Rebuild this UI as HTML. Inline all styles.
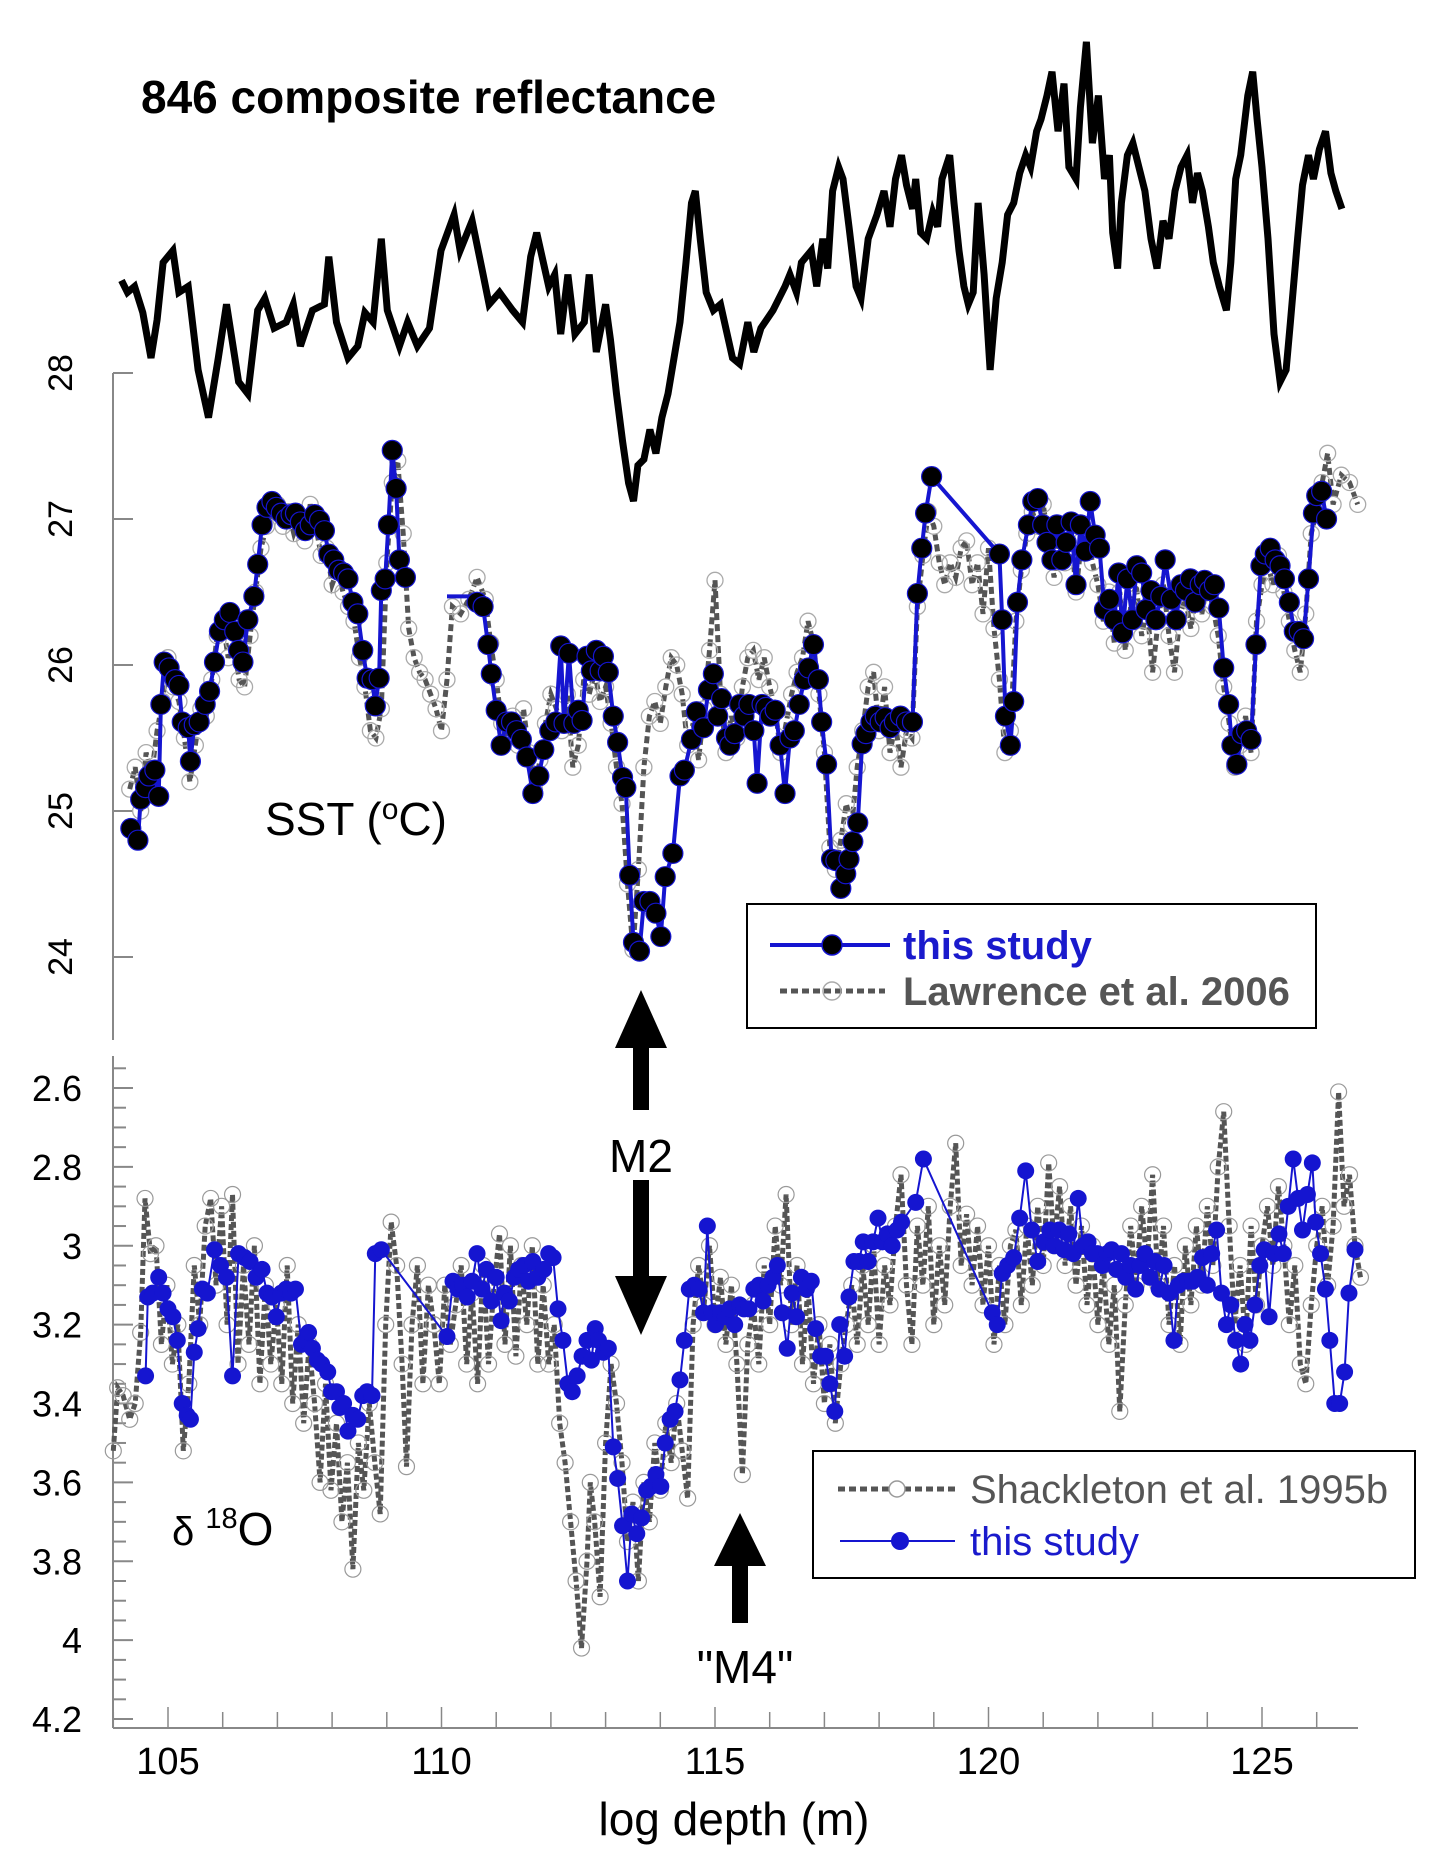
<!DOCTYPE html>
<html><head><meta charset="utf-8"><style>
html,body{margin:0;padding:0;background:#fff;}
svg{display:block;font-family:"Liberation Sans",sans-serif;}
</style></head><body>
<svg id="chart" width="1443" height="1869" viewBox="0 0 1443 1869" xmlns="http://www.w3.org/2000/svg">
<g id="axes"></g>
<g id="series"></g>
<text x="141" y="113" font-size="46" font-weight="bold">846 composite reflectance</text>
<text x="265" y="835" font-size="46">SST (<tspan font-size="30" dy="-16">o</tspan><tspan dy="16">C)</tspan></text>
<text x="172" y="1545" font-size="40">δ <tspan font-size="29" dy="-17">18</tspan><tspan font-size="46" dy="17">O</tspan></text>
<text x="734" y="1835" font-size="46" text-anchor="middle">log depth (m)</text>
<g><rect x="633" y="1040" width="16" height="70" fill="#000"/><polygon points="641,990 615,1048 667,1048" fill="#000"/></g>
<text x="641" y="1172" font-size="46" text-anchor="middle">M2</text>
<g><rect x="633" y="1180" width="16" height="100" fill="#000"/><polygon points="641,1335 615,1276 667,1276" fill="#000"/></g>
<g><rect x="732" y="1560" width="16" height="63" fill="#000"/><polygon points="740,1513 714,1566 766,1566" fill="#000"/></g>
<text x="745" y="1683" font-size="46" text-anchor="middle">"M4"</text>
<g>
<rect x="747" y="904" width="569" height="124" fill="#fff" stroke="#000" stroke-width="2"/>
<line x1="770" y1="945" x2="890" y2="945" stroke="#1515d0" stroke-width="4"/><circle cx="832" cy="945" r="10" fill="#000" stroke="#1515d0" stroke-width="1.5"/>
<text x="903" y="959" font-size="40" font-weight="bold" fill="#1a1acc">this study</text>
<line x1="780" y1="991" x2="885" y2="991" stroke="#555" stroke-width="5" stroke-dasharray="7,4"/><circle cx="832" cy="991" r="9" fill="none" stroke="#aaa" stroke-width="1.5"/>
<text x="903" y="1005" font-size="40" font-weight="bold" fill="#555">Lawrence et al. 2006</text>
</g>
<g>
<rect x="813" y="1451" width="602" height="127" fill="#fff" stroke="#000" stroke-width="2"/>
<line x1="838" y1="1489" x2="955" y2="1489" stroke="#555" stroke-width="5" stroke-dasharray="7,4"/><circle cx="897" cy="1489" r="8" fill="#fff" stroke="#999" stroke-width="1.5"/>
<text x="970" y="1503" font-size="40" fill="#555">Shackleton et al. 1995b</text>
<line x1="840" y1="1541" x2="955" y2="1541" stroke="#1515d0" stroke-width="2"/><circle cx="900" cy="1541" r="9" fill="#1515d0"/>
<text x="970" y="1555" font-size="40" fill="#1a1acc">this study</text>
</g>
</svg>
<script>
const reflDepth=[104.15,104.26,104.39,104.54,104.69,104.80,104.91,105.09,105.20,105.37,105.55,105.74,105.92,106.07,106.29,106.46,106.64,106.77,106.94,107.16,107.29,107.42,107.64,107.86,107.94,108.08,108.29,108.47,108.60,108.75,108.90,109.01,109.23,109.38,109.56,109.78,109.99,110.23,110.34,110.56,110.76,110.87,111.06,111.30,111.48,111.63,111.74,111.96,112.07,112.18,112.31,112.44,112.61,112.70,112.83,113.00,113.09,113.20,113.31,113.42,113.51,113.59,113.70,113.81,113.92,114.03,114.14,114.25,114.36,114.47,114.57,114.64,114.73,114.84,114.97,115.10,115.32,115.45,115.60,115.71,115.84,116.06,116.28,116.37,116.49,116.58,116.76,116.86,116.97,117.06,117.15,117.26,117.34,117.45,117.58,117.67,117.80,117.96,118.09,118.20,118.30,118.41,118.50,118.61,118.67,118.76,118.87,118.98,119.07,119.15,119.29,119.37,119.46,119.55,119.63,119.72,119.81,119.92,120.03,120.14,120.25,120.35,120.46,120.57,120.68,120.77,120.88,120.96,121.07,121.16,121.27,121.38,121.47,121.60,121.68,121.79,121.90,122.01,122.12,122.21,122.27,122.36,122.43,122.54,122.64,122.75,122.86,122.97,123.08,123.19,123.30,123.41,123.52,123.63,123.73,123.82,123.91,124.02,124.11,124.22,124.35,124.43,124.52,124.61,124.74,124.83,124.91,125.00,125.11,125.22,125.33,125.44,125.52,125.65,125.74,125.85,125.94,126.05,126.16,126.26,126.35,126.46];
const reflValue=[20.5,19.5,20,17.8,14,17.2,22,23,19.5,20,13,9,14,18.5,12,11,18,19,16.5,17,18.5,15,18,18.5,22.5,17,14,15,17.8,17,24,18,15,17,15,16.5,23,26,23,25.5,21,18.5,19.5,18,17,22.5,24.5,20,21,16,21,16,17,21,14.5,18.5,15.5,11,7,3.5,2,5,5.5,8,6,9,11,14,17,22,27,28,24,19.5,18,18.5,14,13.5,17,14.5,16.5,18,20,21,19.5,22,23,20,24,21.5,28,30,29,25,20,19,24,26,28,25,29,31,28.5,26.5,29,24.5,24,26.2,25,29,31,27,23,20,18.5,19.5,27,21,13,19,22,26,27,29.5,31,30,33,34,36,38,33,37,30,29,35,40.5,32,36,29,31,24.5,21.5,27,31,32,30,28,24,21.5,25.5,24,28,30,31,27,29.5,28,25,22,20,18,22,29,31,36,38,34,30,24,16,12,13,17,24,28.5,31,29,31.5,33,29.5,28,26.5];

const sstDepth=[104.32,104.45,104.50,104.59,104.65,104.76,104.83,104.87,104.93,105.02,105.13,105.20,105.26,105.37,105.41,105.48,105.57,105.68,105.76,105.85,105.94,106.03,106.13,106.22,106.29,106.37,106.46,106.57,106.64,106.72,106.81,106.90,106.98,107.07,107.16,107.25,107.33,107.42,107.51,107.60,107.68,107.77,107.86,107.94,108.03,108.12,108.21,108.29,108.38,108.47,108.56,108.64,108.73,108.79,108.86,108.90,108.97,109.03,109.10,109.17,109.23,109.34,109.70,110.10,110.54,110.65,110.76,110.85,110.91,111.00,111.09,111.19,111.28,111.37,111.46,111.56,111.67,111.78,111.87,111.98,112.09,112.18,112.24,112.33,112.42,112.50,112.57,112.66,112.74,112.83,112.90,112.96,113.05,113.14,113.22,113.31,113.37,113.44,113.51,113.62,113.70,113.81,113.92,114.01,114.09,114.23,114.36,114.44,114.57,114.66,114.79,114.88,114.97,115.05,115.12,115.21,115.27,115.36,115.45,115.53,115.62,115.71,115.77,115.86,115.93,116.01,116.10,116.19,116.28,116.37,116.45,116.54,116.63,116.71,116.80,116.89,116.95,117.04,117.13,117.21,117.30,117.39,117.45,117.52,117.61,117.69,117.76,117.85,117.93,118.02,118.11,118.20,118.28,118.39,118.50,118.61,118.70,118.78,118.85,118.96,120.20,120.25,120.31,120.40,120.46,120.53,120.61,120.73,120.81,120.90,120.99,121.07,121.16,121.25,121.34,121.42,121.51,121.60,121.68,121.77,121.86,121.95,122.03,122.12,122.21,122.30,122.38,122.45,122.54,122.63,122.71,122.80,122.88,122.97,123.06,123.15,123.23,123.34,123.43,123.52,123.60,123.69,123.78,123.87,123.95,124.04,124.13,124.21,124.30,124.39,124.45,124.54,124.63,124.72,124.80,124.89,124.98,125.06,125.15,125.24,125.33,125.41,125.50,125.59,125.68,125.76,125.85,125.94,126.00,126.09,126.18];
const sstValue=[24.88,24.80,25.08,25.16,25.24,25.28,25.10,25.73,26.02,25.98,25.90,25.86,25.61,25.57,25.34,25.59,25.61,25.73,25.82,26.02,26.23,26.31,26.36,26.23,26.10,26.02,26.31,26.47,26.69,26.96,27.08,27.12,27.08,27.04,27.00,27.03,27.04,26.98,26.92,26.96,27.03,26.99,26.92,26.76,26.72,26.65,26.63,26.59,26.43,26.35,26.10,25.91,25.90,25.72,25.91,26.51,26.59,26.96,27.47,27.21,26.72,26.60,null,26.47,26.47,26.43,26.40,26.14,25.94,25.69,25.45,25.61,25.61,25.55,25.49,25.37,25.12,25.24,25.42,25.55,25.61,26.13,25.60,26.08,25.60,25.69,25.62,26.06,25.96,26.10,25.96,26.06,25.95,25.65,25.47,25.23,25.16,24.56,24.10,24.04,24.38,24.38,24.30,24.14,24.55,24.71,25.24,25.28,25.49,25.68,25.57,25.83,25.94,25.65,25.77,25.50,25.45,25.53,25.73,25.65,25.73,25.55,25.19,25.73,25.71,25.65,25.69,25.45,25.12,25.50,25.55,25.73,25.90,25.98,26.14,25.90,25.61,25.32,24.67,24.66,24.47,24.57,24.67,24.79,24.92,25.46,25.53,25.61,25.65,25.61,25.64,25.57,25.61,25.65,25.61,25.61,26.49,26.80,27.04,27.29,26.76,26.31,25.65,25.45,25.75,26.43,26.72,26.96,27.12,27.14,26.96,26.84,26.72,26.96,26.72,26.84,26.98,26.55,26.96,26.78,27.12,26.89,26.80,26.38,26.45,26.31,26.63,26.22,26.59,26.31,26.68,26.63,26.38,26.51,26.31,26.47,26.72,26.45,26.31,26.55,26.51,26.59,26.43,26.55,26.58,26.51,26.55,26.39,25.98,25.73,25.45,25.32,25.53,25.55,25.49,26.14,26.68,26.76,26.80,26.72,26.68,26.59,26.43,26.23,26.23,26.18,26.59,27.04,27.16,27.19,27.00];

const lawDepth=[104.30,104.40,104.50,104.60,104.70,104.80,104.90,105.00,105.10,105.20,105.30,105.40,105.50,105.60,105.70,105.80,105.90,106.00,106.10,106.20,106.30,106.40,106.50,106.60,106.70,106.80,106.90,107.00,107.10,107.20,107.30,107.40,107.50,107.60,107.70,107.80,107.90,108.00,108.10,108.20,108.30,108.40,108.50,108.60,108.70,108.80,108.90,109.00,109.10,109.20,109.30,109.40,109.50,109.60,109.70,109.80,109.90,110.00,110.10,110.20,110.35,110.50,110.65,110.80,110.90,111.00,111.10,111.20,111.30,111.40,111.50,111.60,111.70,111.80,111.90,112.00,112.10,112.20,112.30,112.40,112.50,112.60,112.70,112.80,112.90,113.00,113.10,113.20,113.30,113.40,113.50,113.60,113.70,113.80,113.90,114.00,114.10,114.20,114.30,114.40,114.50,114.60,114.70,114.80,114.90,115.00,115.10,115.20,115.30,115.40,115.50,115.60,115.70,115.80,115.90,116.00,116.10,116.20,116.30,116.40,116.50,116.60,116.70,116.80,116.90,117.00,117.10,117.20,117.30,117.40,117.50,117.60,117.70,117.80,117.90,118.00,118.10,118.20,118.30,118.40,118.50,118.60,118.70,118.80,118.90,119.00,119.10,119.20,119.30,119.40,119.50,119.60,119.70,119.80,119.90,120.00,120.10,120.20,120.30,120.40,120.50,120.60,120.70,120.80,120.90,121.00,121.10,121.20,121.30,121.40,121.50,121.60,121.70,121.80,121.90,122.00,122.10,122.20,122.30,122.40,122.50,122.60,122.70,122.80,122.90,123.00,123.10,123.20,123.30,123.40,123.50,123.60,123.70,123.80,123.90,124.00,124.10,124.20,124.30,124.40,124.50,124.60,124.70,124.80,124.90,125.00,125.10,125.20,125.30,125.40,125.50,125.60,125.70,125.80,125.90,126.00,126.10,126.20,126.30,126.45,126.60,126.75];
const lawValue=[25.15,25.30,25.00,25.40,25.25,25.55,25.75,26.05,25.85,25.75,25.50,25.20,25.45,25.70,25.65,25.90,26.20,26.30,26.05,26.15,25.90,25.85,26.20,26.50,26.80,26.95,27.05,27.10,26.95,27.05,26.90,27.00,26.85,27.10,26.95,26.75,26.80,26.55,26.65,26.50,26.40,26.30,26.05,25.85,25.55,25.50,25.70,26.70,27.25,27.40,26.90,26.25,26.05,25.95,25.90,25.80,25.70,25.55,25.90,26.40,26.35,26.45,26.60,26.45,26.15,25.90,25.60,25.50,25.65,25.45,25.70,25.40,25.15,25.35,25.60,25.80,25.70,25.55,25.80,25.30,25.45,25.90,25.80,25.95,25.75,25.85,25.60,25.30,25.05,24.50,24.05,24.60,25.30,25.65,25.75,25.60,25.85,26.05,26.00,25.80,25.45,25.60,25.35,25.70,26.10,26.58,25.80,25.40,25.65,25.50,25.85,26.05,26.10,25.90,26.05,25.85,25.70,25.40,25.60,25.80,25.95,26.05,26.30,26.15,25.80,25.40,24.75,24.60,24.80,25.05,24.90,25.30,25.55,25.85,25.95,25.55,25.85,25.40,25.60,25.30,25.55,25.50,26.40,26.75,27.05,26.95,26.70,26.55,26.70,26.60,26.80,26.85,26.55,26.70,26.35,26.80,26.25,25.90,25.40,25.55,26.30,26.65,26.90,27.05,26.95,27.10,26.85,26.60,26.90,26.70,26.95,26.50,26.85,26.95,26.70,26.55,26.30,26.50,26.15,26.50,26.10,26.40,26.55,26.20,26.40,25.95,26.30,26.55,26.20,25.95,26.35,26.45,26.25,26.50,26.35,26.55,26.40,26.20,25.85,25.60,25.30,25.45,25.65,25.40,26.30,26.55,26.70,26.55,26.75,26.50,26.30,26.10,25.95,26.35,26.90,27.05,27.25,27.45,27.10,27.30,27.25,27.10];

const shackDepth=[104.00,104.08,104.18,104.30,104.40,104.50,104.58,104.68,104.78,104.88,104.98,105.08,105.18,105.28,105.38,105.48,105.58,105.68,105.78,105.88,105.98,106.08,106.18,106.28,106.38,106.48,106.58,106.68,106.78,106.88,106.98,107.08,107.18,107.28,107.38,107.48,107.58,107.68,107.78,107.88,107.98,108.08,108.18,108.28,108.38,108.48,108.58,108.68,108.78,108.88,108.98,109.08,109.18,109.28,109.36,109.46,109.56,109.66,109.76,109.86,109.96,110.06,110.16,110.26,110.36,110.46,110.56,110.66,110.76,110.86,110.96,111.06,111.16,111.26,111.36,111.46,111.56,111.66,111.76,111.86,111.96,112.06,112.16,112.26,112.36,112.46,112.56,112.66,112.72,112.80,112.90,113.00,113.10,113.20,113.30,113.40,113.50,113.60,113.70,113.80,113.90,114.00,114.10,114.20,114.30,114.40,114.50,114.60,114.70,114.80,114.90,115.00,115.10,115.20,115.30,115.40,115.50,115.60,115.70,115.80,115.90,116.00,116.10,116.20,116.30,116.40,116.50,116.60,116.70,116.80,116.90,117.00,117.10,117.20,117.30,117.40,117.50,117.60,117.70,117.80,117.90,118.00,118.10,118.20,118.30,118.40,118.50,118.60,118.70,118.80,118.90,119.00,119.10,119.20,119.30,119.40,119.50,119.60,119.70,119.80,119.90,120.00,120.10,120.20,120.30,120.40,120.50,120.60,120.70,120.80,120.90,121.00,121.10,121.20,121.30,121.40,121.50,121.60,121.70,121.80,121.90,122.00,122.10,122.20,122.30,122.40,122.50,122.60,122.70,122.80,122.90,123.00,123.10,123.20,123.30,123.40,123.50,123.60,123.70,123.80,123.90,124.00,124.10,124.20,124.30,124.40,124.50,124.60,124.70,124.80,124.90,125.00,125.10,125.20,125.30,125.40,125.50,125.60,125.70,125.80,125.90,126.00,126.10,126.20,126.30,126.40,126.50,126.60,126.70,126.80];
const shackValue=[3.52,3.36,3.38,3.44,3.40,3.22,2.88,3.02,3.00,3.25,3.10,3.30,3.20,3.52,3.35,3.05,3.20,2.95,2.88,3.10,2.90,3.20,2.87,3.30,3.05,3.25,3.00,3.35,3.10,3.30,3.15,3.35,3.05,3.40,3.20,3.45,3.25,3.40,3.60,3.35,3.62,3.45,3.70,3.55,3.82,3.50,3.62,3.40,3.55,3.68,3.20,2.94,3.05,3.30,3.56,3.20,3.05,3.35,3.10,3.20,3.35,3.10,3.25,3.15,3.05,3.30,3.12,3.35,3.05,3.30,3.10,2.97,3.25,3.00,3.28,3.05,3.20,3.00,3.30,3.10,3.30,3.20,3.45,3.55,3.70,3.85,4.02,3.80,3.60,3.70,3.89,3.50,3.30,3.40,3.55,3.75,3.65,3.85,3.60,3.70,3.50,3.62,3.45,3.55,3.40,3.52,3.64,3.20,3.05,3.15,3.00,3.20,3.08,3.25,3.10,3.30,3.58,3.25,3.15,3.30,3.05,3.20,2.95,3.10,2.87,3.20,3.05,3.30,3.10,3.35,3.20,3.40,3.25,3.45,3.30,3.20,3.10,3.25,3.05,3.20,3.00,3.25,3.05,3.15,2.95,2.82,3.10,3.25,2.95,3.10,2.90,3.20,3.00,3.15,2.90,2.74,3.05,2.92,3.10,2.95,3.15,3.00,3.25,3.05,3.20,3.00,2.96,3.15,2.95,3.10,2.90,3.05,2.79,3.00,2.85,3.05,2.90,3.10,2.95,3.15,3.00,3.20,3.05,3.25,3.10,3.42,3.15,2.95,3.10,2.90,3.05,2.82,3.10,2.95,3.20,3.05,3.25,3.00,3.15,2.95,3.10,2.90,3.05,2.80,2.66,2.95,3.20,3.05,3.25,2.95,3.15,3.00,2.90,3.05,2.85,3.00,3.20,3.05,3.30,3.35,3.15,3.00,2.90,3.10,2.95,2.61,2.90,2.82,3.00,3.08];

const o18Depth=[104.59,104.63,104.72,104.83,104.91,105.00,105.09,105.17,105.26,105.35,105.41,105.48,105.55,105.63,105.72,105.85,105.96,106.07,106.18,106.29,106.40,106.50,106.61,106.72,106.81,106.90,106.98,107.07,107.16,107.25,107.33,107.44,107.51,107.57,107.64,107.73,107.81,107.92,107.99,108.08,108.14,108.21,108.29,108.38,108.47,108.56,108.64,108.73,108.79,108.90,110.10,110.21,110.30,110.39,110.47,110.56,110.65,110.74,110.82,110.91,111.00,111.09,111.15,111.24,111.33,111.41,111.50,111.59,111.67,111.76,111.87,111.96,112.04,112.13,112.22,112.31,112.39,112.48,112.57,112.66,112.74,112.81,112.87,112.96,113.05,113.14,113.22,113.31,113.40,113.48,113.57,113.66,113.75,113.83,113.92,114.01,114.09,114.18,114.27,114.36,114.44,114.53,114.62,114.71,114.79,114.86,114.95,115.01,115.10,115.19,115.27,115.36,115.45,115.53,115.62,115.71,115.80,115.88,115.97,116.06,116.14,116.23,116.32,116.41,116.49,116.58,116.67,116.76,116.84,116.93,117.02,117.10,117.19,117.28,117.37,117.45,117.54,117.63,117.71,117.80,117.89,117.98,118.06,118.15,118.24,118.33,118.41,118.67,118.81,120.07,120.16,120.25,120.35,120.46,120.57,120.68,120.79,120.90,121.01,121.12,121.20,121.29,121.38,121.47,121.55,121.64,121.73,121.82,121.90,121.99,122.08,122.17,122.25,122.34,122.43,122.51,122.60,122.69,122.77,122.86,122.95,123.04,123.12,123.21,123.30,123.39,123.47,123.56,123.65,123.73,123.82,123.91,124.00,124.08,124.17,124.26,124.35,124.43,124.52,124.61,124.69,124.78,124.87,124.96,125.04,125.13,125.22,125.31,125.39,125.48,125.57,125.66,125.74,125.83,125.92,125.98,126.07,126.16,126.24,126.33,126.42,126.51,126.59,126.70];
const o18Value=[3.33,3.13,3.12,3.08,3.12,3.16,3.18,3.24,3.40,3.43,3.44,3.27,3.21,3.11,3.12,3.01,3.05,3.08,3.33,3.02,3.03,3.04,3.08,3.06,3.12,3.13,3.18,3.12,3.11,3.12,3.11,3.25,3.24,3.22,3.26,3.29,3.30,3.32,3.37,3.37,3.41,3.40,3.47,3.43,3.44,3.38,3.37,3.38,3.02,3.01,3.23,3.09,3.11,3.10,3.13,3.09,3.02,3.11,3.06,3.14,3.08,3.19,3.12,3.14,3.08,3.06,3.05,3.09,3.04,3.08,3.06,3.02,3.03,3.16,3.24,3.35,3.37,3.33,3.28,3.24,3.29,3.21,3.24,3.27,3.26,3.51,3.59,3.71,3.85,3.68,3.73,3.69,3.62,3.61,3.58,3.61,3.50,3.44,3.42,3.34,3.24,3.11,3.10,3.11,3.17,2.95,3.17,3.20,3.17,3.18,3.16,3.20,3.15,3.16,3.16,3.11,3.10,3.14,3.10,3.08,3.05,3.17,3.26,3.12,3.18,3.08,3.11,3.09,3.21,3.28,3.28,3.35,3.42,3.20,3.28,3.13,3.04,3.04,2.99,3.04,2.99,2.93,2.99,2.97,3.00,2.96,2.94,2.89,2.78,3.17,3.20,3.07,3.05,3.03,2.93,2.81,2.96,3.04,2.99,2.96,3.00,2.96,3.01,2.97,3.02,2.88,3.00,2.99,3.02,3.02,3.05,3.02,3.01,3.06,3.02,3.08,3.05,3.11,3.05,3.02,3.08,3.04,3.11,3.05,3.12,3.24,3.10,3.09,3.09,3.09,3.08,3.03,3.10,3.02,2.96,3.12,3.20,3.15,3.24,3.30,3.20,3.24,3.15,3.05,3.01,3.18,3.02,2.97,3.02,2.90,2.78,2.88,2.96,2.87,2.79,2.94,3.02,3.11,3.24,3.40,3.40,3.32,3.12,3.01];

const NS='http://www.w3.org/2000/svg';
const xs=d=>168+(d-105)*54.7;
const yR=v=>525-v*11.93;
const yT=t=>373+(28-t)*146;
const yO=v=>1088+(v-2.6)*394.4;
const axesG=document.getElementById('axes');
const serG=document.getElementById('series');
function mk(tag,attrs,parent){const e=document.createElementNS(NS,tag);for(const k in attrs)e.setAttribute(k,attrs[k]);parent.appendChild(e);return e;}
function pathOf(ds,vs,yf){let p='',pen=false;for(let i=0;i<ds.length;i++){if(vs[i]===null){pen=false;continue;}p+=(pen?'L':'M')+xs(ds[i]).toFixed(1)+' '+yf(vs[i]).toFixed(1);pen=true;}return p;}

let a=mk('line',{x1:113,y1:373,x2:113,y2:1040,stroke:'#888','stroke-width':2},axesG);


const sstTicks=[24,25,26,27,28];
sstTicks.forEach(t=>{
  mk('line',{x1:113,y1:yT(t),x2:133,y2:yT(t),stroke:'#888','stroke-width':2},axesG);
  const tx=mk('text',{x:0,y:0,'font-size':34,'text-anchor':'middle',transform:`translate(72 ${yT(t)}) rotate(-90)`},axesG);
  tx.textContent=String(t);
  
  
});
a=mk('line',{x1:113,y1:1056,x2:113,y2:1728,stroke:'#888','stroke-width':2},axesG);


const o18Ticks=['2.6','2.8','3','3.2','3.4','3.6','3.8','4','4.2'];
for(let v=2.55;v<=4.201;v+=0.05){const y=yO(v);const major=Math.abs(v*5-Math.round(v*5))<0.01;mk('line',{x1:113,y1:y,x2:major?133:126,y2:y,stroke:'#888','stroke-width':2},axesG);}
o18Ticks.forEach(s=>{
  const tx=mk('text',{x:82,y:yO(parseFloat(s))+13,'font-size':36,'text-anchor':'end'},axesG);
  tx.textContent=s;
  
  
});
a=mk('line',{x1:113,y1:1728,x2:1358,y2:1728,stroke:'#888','stroke-width':2},axesG);


for(let d=104;d<=126;d++){mk('line',{x1:xs(d),y1:1728,x2:xs(d),y2:d%5===0?1707:1712,stroke:'#888','stroke-width':1.5},axesG);}
const xTicks=[105,110,115,120,125];
xTicks.forEach(d=>{
  const tx=mk('text',{x:xs(d),y:1774,'font-size':38,'text-anchor':'middle'},axesG);
  tx.textContent=String(d);
  
  
});

let p=mk('path',{d:pathOf(reflDepth,reflValue,yR),fill:'none',stroke:'#000','stroke-width':7,'stroke-linejoin':'miter'},serG);



p=mk('path',{d:pathOf(lawDepth,lawValue,yT),fill:'none',stroke:'#555','stroke-width':5,'stroke-dasharray':'7,4'},serG);


lawDepth.forEach((d,i)=>{
  const c=mk('circle',{cx:xs(d),cy:yT(lawValue[i]),r:8,fill:'none',stroke:'#aaa','stroke-width':1.3},serG);
  
  
});
p=mk('path',{d:pathOf(sstDepth,sstValue,yT),fill:'none',stroke:'#1515d0','stroke-width':4},serG);


sstDepth.forEach((d,i)=>{
  if(sstValue[i]===null)return;
  if(i===63||i===64)return;
  const c=mk('circle',{cx:xs(d),cy:yT(sstValue[i]),r:10,fill:'#000',stroke:'#1515d0','stroke-width':1.2},serG);
  
  
});

p=mk('path',{d:pathOf(shackDepth,shackValue,yO),fill:'none',stroke:'#555','stroke-width':5,'stroke-dasharray':'6,3'},serG);


shackDepth.forEach((d,i)=>{
  const c=mk('circle',{cx:xs(d),cy:yO(shackValue[i]),r:8,fill:'none',stroke:'#999','stroke-width':1.2},serG);
  
  
});
p=mk('path',{d:pathOf(o18Depth,o18Value,yO),fill:'none',stroke:'#1515d0','stroke-width':2},serG);


o18Depth.forEach((d,i)=>{
  const c=mk('circle',{cx:xs(d),cy:yO(o18Value[i]),r:8.5,fill:'#1515d0'},serG);
  
  
});
</script>
</body></html>
